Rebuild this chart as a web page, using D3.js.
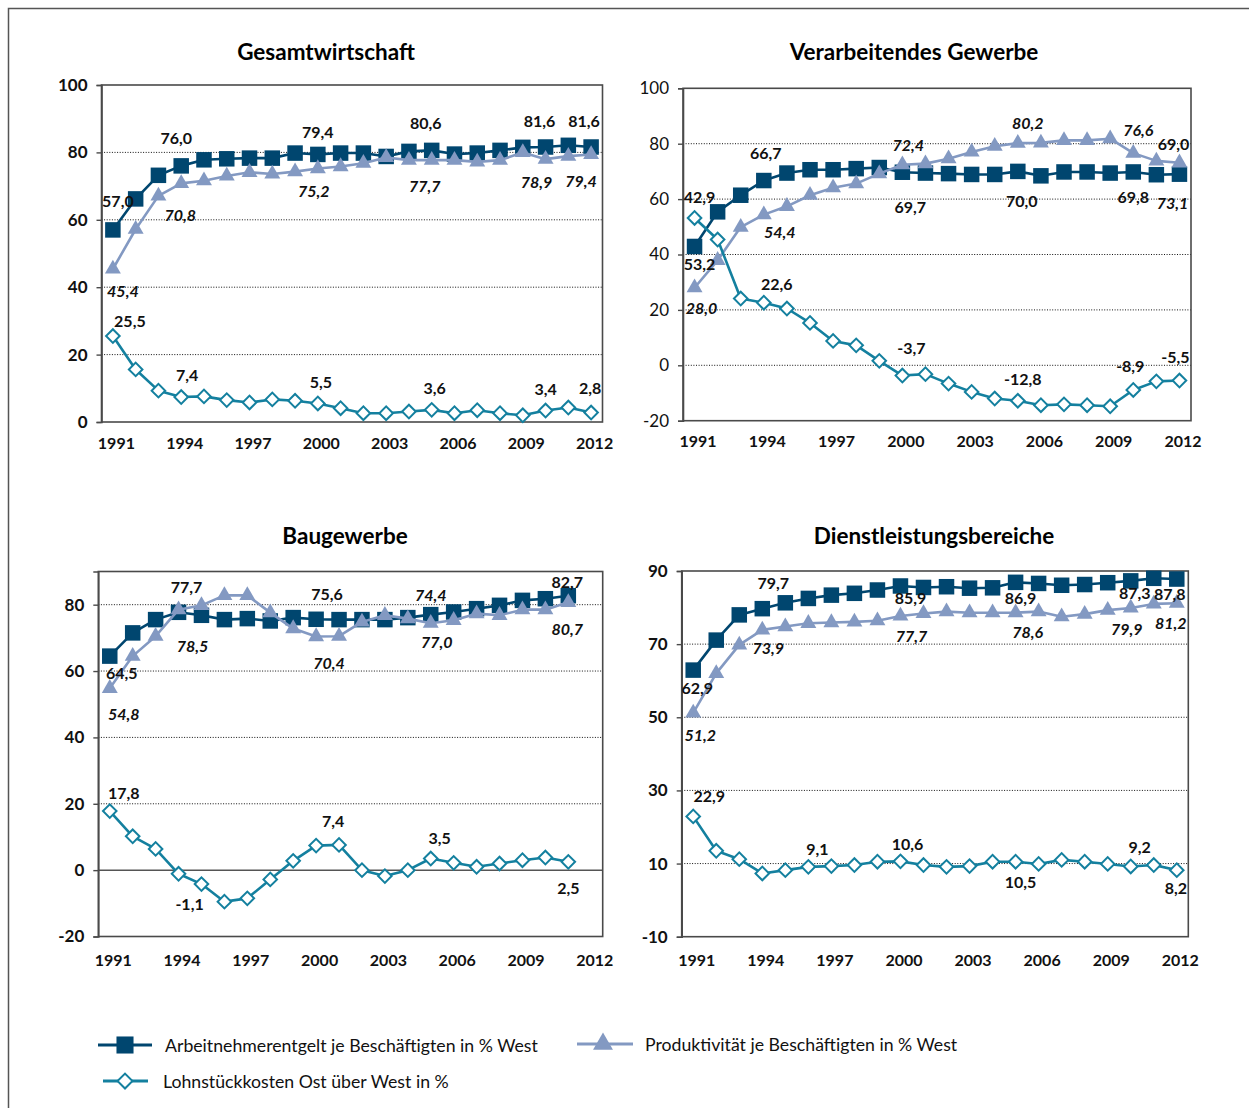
<!DOCTYPE html>
<html>
<head>
<meta charset="utf-8">
<script src="https://cdn.jsdelivr.net/npm/d3@7"></script>
<style>
  body { margin: 0; background: #fff; }
  svg { display: block; font-family: Lato, "Noto Sans", sans-serif; }
</style>
</head>
<body>
<script>
// Jahre / Kategorien
const years = [1991, 1992, 1993, 1994, 1995, 1996, 1997, 1998, 1999, 2000, 2001,
  2002, 2003, 2004, 2005, 2006, 2007, 2008, 2009, 2010, 2011, 2012];
const yearTicks = [1991, 1994, 1997, 2000, 2003, 2006, 2009, 2012];

const seriesNames = [
  "Arbeitnehmerentgelt je Beschäftigten in % West",
  "Produktivität je Beschäftigten in % West",
  "Lohnstückkosten Ost über West in %"
];

// Gesamtwirtschaft
const gesamtAE = [57.0, 66.2, 73.2, 76.0, 77.8, 78.1, 78.3, 78.3, 79.8, 79.4, 79.8,
  79.8, 78.8, 80.3, 80.6, 79.5, 79.8, 80.6, 81.5, 81.6, 82.1, 81.6];
const gesamtProd = [45.4, 57.2, 67.1, 70.8, 71.6, 73.0, 74.1, 73.6, 74.3, 75.2, 75.8,
  76.8, 78.5, 77.7, 77.7, 77.7, 77.2, 77.7, 80.0, 78.0, 78.9, 79.4];
const gesamtLSK = [25.5, 15.6, 9.3, 7.4, 7.6, 6.5, 5.8, 6.7, 6.3, 5.5, 4.1,
  2.6, 2.6, 3.1, 3.6, 2.6, 3.5, 2.6, 2.0, 3.4, 4.3, 2.8];

// Verarbeitendes Gewerbe
const verarbAE = [42.9, 55.4, 61.4, 66.7, 69.4, 70.6, 70.6, 71.0, 71.4, 69.7, 69.4,
  69.2, 68.9, 68.9, 70.0, 68.4, 69.8, 69.8, 69.4, 69.8, 68.8, 69.0];
const verarbProd = [28.0, 37.9, 49.9, 54.4, 57.4, 61.4, 64.1, 65.6, 69.2, 72.4, 72.8,
  74.6, 77.0, 79.1, 80.2, 80.3, 81.2, 81.2, 81.8, 76.6, 73.8, 73.1];
const verarbLSK = [53.2, 45.4, 24.1, 22.6, 20.5, 15.3, 8.8, 7.2, 1.6, -3.7, -3.2,
  -6.6, -9.6, -12.0, -12.8, -14.4, -14.1, -14.4, -14.8, -8.9, -5.8, -5.5];

// Baugewerbe (bis 2011)
const bauAE = [64.5, 71.5, 75.5, 77.7, 76.8, 75.5, 75.8, 75.1, 76.1, 75.6, 75.5,
  75.5, 75.5, 76.1, 77.0, 77.8, 78.8, 79.8, 81.3, 81.8, 82.7];
const bauProd = [54.8, 64.5, 70.5, 78.5, 79.8, 82.8, 82.8, 77.6, 72.8, 70.4, 70.5,
  74.8, 76.8, 75.8, 74.4, 75.3, 77.3, 76.8, 78.5, 78.5, 80.7];
const bauLSK = [17.8, 10.2, 6.4, -1.1, -4.2, -9.5, -8.5, -2.8, 2.8, 7.4, 7.6,
  0.0, -1.8, 0.0, 3.5, 2.2, 1.0, 2.0, 3.0, 3.8, 2.5];

// Dienstleistungsbereiche
const dienstAE = [62.9, 71.1, 78.0, 79.7, 81.3, 82.5, 83.4, 83.9, 84.8, 85.9, 85.5,
  85.7, 85.3, 85.4, 86.9, 86.6, 86.1, 86.3, 86.8, 87.3, 88.0, 87.8];
const dienstProd = [51.2, 62.0, 69.8, 73.9, 74.8, 75.7, 75.9, 76.1, 76.4, 77.7, 78.4,
  78.9, 78.6, 78.6, 78.6, 78.9, 77.5, 78.2, 79.3, 79.9, 81.0, 81.2];
const dienstLSK = [22.9, 13.5, 11.2, 7.3, 8.2, 9.1, 9.3, 9.6, 10.5, 10.6, 9.6,
  9.1, 9.3, 10.5, 10.5, 9.9, 11.0, 10.5, 9.9, 9.2, 9.6, 8.2];

// Beschriftungen: [Reihe, Jahr, Text, dx, dy, kursiv?]
const gesamtLabels = [
  [0, 1991, "57,0", 5, -29], [1, 1991, "45,4", 10, 21], [2, 1991, "25,5", 17, -16],
  [0, 1994, "76,0", -5, -28], [1, 1994, "70,8", -1, 31], [2, 1994, "7,4", 6, -23],
  [0, 2000, "79,4", 0, -23], [1, 2000, "75,2", -4, 22], [2, 2000, "5,5", 3, -22],
  [0, 2005, "80,6", -6, -28], [1, 2005, "77,7", -7, 25], [2, 2005, "3,6", 3, -22],
  [0, 2010, "81,6", -6, -27], [1, 2010, "78,9", -9, 25], [2, 2010, "3,4", 0, -22],
  [0, 2012, "81,6", -7, -27], [1, 2012, "79,4", -10, 26], [2, 2012, "2,8", -1, -25]
];
const verarbLabels = [
  [0, 1991, "42,9", 5, -50], [2, 1991, "53,2", 5, 46], [1, 1991, "28,0", 7, 20],
  [0, 1994, "66,7", 2, -28], [1, 1994, "54,4", 16, 17], [2, 1994, "22,6", 13, -19],
  [1, 2000, "72,4", 6, -20], [0, 2000, "69,7", 8, 34], [2, 2000, "-3,7", 9, -28],
  [1, 2005, "80,2", 10, -21], [0, 2005, "70,0", 4, 29], [2, 2005, "-12,8", 5, -22],
  [1, 2010, "76,6", 5, -24], [0, 2010, "69,8", 0, 25], [2, 2010, "-8,9", -3, -24],
  [0, 2012, "69,0", -6, -31], [1, 2012, "73,1", -7, 40], [2, 2012, "-5,5", -4, -24]
];
const bauLabels = [
  [0, 1991, "64,5", 12, 16], [1, 1991, "54,8", 14, 25], [2, 1991, "17,8", 14, -19],
  [0, 1994, "77,7", 8, -26], [1, 1994, "78,5", 14, 36], [2, 1994, "-1,1", 11, 30],
  [0, 2000, "75,6", 11, -26], [1, 2000, "70,4", 13, 26], [2, 2000, "7,4", 17, -25],
  [1, 2005, "74,4", 0, -29], [0, 2005, "77,0", 6, 27, true], [2, 2005, "3,5", 9, -21],
  [0, 2011, "82,7", -1, -14], [1, 2011, "80,7", -1, 26], [2, 2011, "2,5", 0, 26]
];
const dienstLabels = [
  [0, 1991, "62,9", 4, 17], [1, 1991, "51,2", 7, 22], [2, 1991, "22,9", 16, -21],
  [0, 1994, "79,7", 11, -26], [1, 1994, "73,9", 6, 18], [2, 1996, "9,1", 9, -18],
  [0, 2000, "85,9", 10, 12], [1, 2000, "77,7", 11, 20], [2, 2000, "10,6", 7, -18],
  [0, 2005, "86,9", 5, 15], [1, 2005, "78,6", 12, 19], [2, 2005, "10,5", 5, 20],
  [0, 2010, "87,3", 4, 12], [1, 2010, "79,9", -4, 21], [2, 2010, "9,2", 9, -20],
  [0, 2012, "87,8", -7, 14], [1, 2012, "81,2", -6, 19], [2, 2012, "8,2", -1, 17]
];

const colors = ["#00466f", "#8399c2", "#14809f"];

const panels = [
  { title: "Gesamtwirtschaft", tx: 326, ty: 51, left: 101.5, right: 602.5, top: 85, bottom: 422,
    domain: [0, 100], ticks: [0, 20, 40, 60, 80, 100], grid: [20, 40, 60, 80], zero: false,
    boldTicks: true, xpad: 15.5, series: [gesamtAE, gesamtProd, gesamtLSK], labels: gesamtLabels },
  { title: "Verarbeitendes Gewerbe", tx: 914, ty: 51, left: 683, right: 1191, top: 88.3, bottom: 420.7,
    domain: [-20, 100], ticks: [-20, 0, 20, 40, 60, 80, 100], grid: [0, 20, 40, 60, 80], zero: false,
    boldTicks: false, xpad: 15, series: [verarbAE, verarbProd, verarbLSK], labels: verarbLabels },
  { title: "Baugewerbe", tx: 345, ty: 535, left: 98.3, right: 602.7, top: 571.5, bottom: 936.5,
    domain: [-20, 90], ticks: [-20, 0, 20, 40, 60, 80], grid: [20, 40, 60, 80], zero: true,
    boldTicks: true, xpad: 18, series: [bauAE, bauProd, bauLSK], labels: bauLabels },
  { title: "Dienstleistungsbereiche", tx: 934, ty: 535, left: 681.7, right: 1188.3, top: 571, bottom: 936.7,
    domain: [-10, 90], ticks: [-10, 10, 30, 50, 70, 90], grid: [10, 30, 50, 70], zero: false,
    boldTicks: true, xpad: 18, series: [dienstAE, dienstProd, dienstLSK], labels: dienstLabels }
];

const svg = d3.select("body").append("svg")
  .attr("width", 1249)
  .attr("height", 1108);

// Rahmen aussen
svg.append("path")
  .attr("d", "M8.5,1108 V8.5 H1249")
  .attr("fill", "none")
  .attr("stroke", "#555")
  .attr("stroke-width", 1.5);

function marker(sel, s, scale) {
  scale = scale || 1;
  if (s === 0) {
    sel.append("rect")
      .attr("x", -7.75 * scale).attr("y", -7.75 * scale)
      .attr("width", 15.5 * scale).attr("height", 15.5 * scale)
      .attr("fill", colors[0]);
  } else if (s === 1) {
    sel.append("path")
      .attr("d", d3.symbol(d3.symbolTriangle, 110 * scale * scale)())
      .attr("fill", colors[1]);
  } else {
    sel.append("path")
      .attr("d", d3.symbol(d3.symbolSquare, 92 * scale * scale)())
      .attr("transform", "rotate(45)")
      .attr("fill", "#fff")
      .attr("stroke", colors[2])
      .attr("stroke-width", 2);
  }
}

panels.forEach(p => {
  const g = svg.append("g");

  const x = d3.scalePoint().domain(years).range([p.left, p.right]).padding(0.5);
  const y = d3.scaleLinear().domain(p.domain).range([p.bottom, p.top]);

  // Titel
  g.append("text")
    .attr("x", p.tx).attr("y", p.ty)
    .attr("text-anchor", "middle")
    .attr("dominant-baseline", "central")
    .style("font-size", "22.5px")
    .style("font-weight", "bold")
    .text(p.title);

  // Gitterlinien
  g.selectAll(".grid")
    .data(p.grid)
    .enter().append("line")
    .attr("x1", p.left).attr("x2", p.right)
    .attr("y1", d => y(d)).attr("y2", d => y(d))
    .attr("stroke", "#111")
    .attr("stroke-width", 1)
    .attr("stroke-dasharray", "1,1.6");

  if (p.zero) {
    g.append("line")
      .attr("x1", p.left).attr("x2", p.right)
      .attr("y1", y(0)).attr("y2", y(0))
      .attr("stroke", "#555")
      .attr("stroke-width", 1.5);
  }

  // Rahmen
  g.append("rect")
    .attr("x", p.left).attr("y", p.top)
    .attr("width", p.right - p.left).attr("height", p.bottom - p.top)
    .attr("fill", "none")
    .attr("stroke", "#4a4a4a")
    .attr("stroke-width", 1.6);

  // y-Achse (Bindestrich statt Minuszeichen wie im Original)
  const yAxis = g.append("g")
    .attr("transform", `translate(${p.left},0)`)
    .call(d3.axisLeft(y).tickValues(p.ticks).tickSize(5).tickPadding(9).tickFormat(d => String(d)));
  yAxis.select(".domain").attr("stroke", "#4a4a4a").attr("stroke-width", 1.6);
  yAxis.selectAll(".tick line").attr("stroke", "#4a4a4a").attr("stroke-width", 1.4);
  yAxis.selectAll("text")
    .style("font-family", "Lato, sans-serif")
    .style("font-size", "17px")
    .style("font-weight", p.boldTicks ? "bold" : "normal")
    .attr("fill", "#111");

  // x-Achse
  const xAxis = g.append("g")
    .attr("transform", `translate(0,${p.bottom})`)
    .call(d3.axisBottom(x).tickValues(yearTicks).tickSize(0).tickPadding(p.xpad));
  xAxis.select(".domain").remove();
  xAxis.selectAll("text")
    .attr("dx", 3)
    .style("font-family", "Lato, sans-serif")
    .style("font-size", "16px")
    .style("font-weight", "bold")
    .attr("fill", "#111");

  // Linien und Marker
  p.series.forEach((vals, s) => {
    const pts = vals.map((v, i) => [years[i], v]);
    g.append("path")
      .datum(pts)
      .attr("fill", "none")
      .attr("stroke", colors[s])
      .attr("stroke-width", 2.6)
      .attr("stroke-linejoin", "round")
      .attr("d", d3.line().x(d => x(d[0])).y(d => y(d[1])));

    g.selectAll(".m" + s)
      .data(pts)
      .enter().append("g")
      .attr("class", "m" + s)
      .attr("transform", d => `translate(${x(d[0])},${y(d[1])})`)
      .each(function () { marker(d3.select(this), s); });
  });

  // Werte
  g.selectAll(".lbl")
    .data(p.labels)
    .enter().append("text")
    .attr("x", d => x(d[1]) + d[3])
    .attr("y", d => y(+d[2].replace(",", ".")) + d[4])
    .attr("text-anchor", "middle")
    .attr("dominant-baseline", "central")
    .style("font-size", "16px")
    .style("font-weight", "bold")
    .style("font-style", d => (d[0] === 1 || d[5]) ? "italic" : "normal")
    .attr("fill", "#111")
    .text(d => d[2]);
});

// Legende
const legend = [
  { s: 0, x1: 98, x2: 152, mx: 125, y: 1045, tx: 165 },
  { s: 1, x1: 577, x2: 633, mx: 603, y: 1044, tx: 645 },
  { s: 2, x1: 103, x2: 148, mx: 125, y: 1081, tx: 163 }
];
legend.forEach(l => {
  svg.append("line")
    .attr("x1", l.x1).attr("x2", l.x2)
    .attr("y1", l.y).attr("y2", l.y)
    .attr("stroke", colors[l.s])
    .attr("stroke-width", 3);
  const m = svg.append("g").attr("transform", `translate(${l.mx},${l.y})`);
  marker(m, l.s, l.s === 1 ? 1.25 : 1.1);
  svg.append("text")
    .attr("x", l.tx).attr("y", l.y)
    .attr("dominant-baseline", "central")
    .style("font-size", "17.7px")
    .attr("fill", "#111")
    .text(seriesNames[l.s]);
});
</script>
</body>
</html>
